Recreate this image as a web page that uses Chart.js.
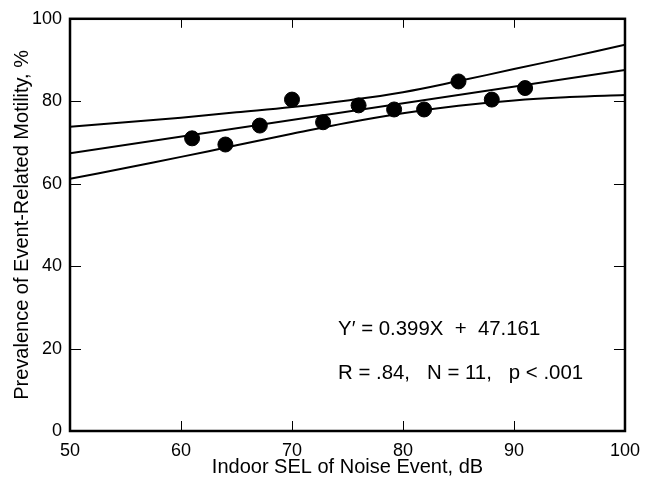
<!DOCTYPE html>
<html>
<head>
<meta charset="utf-8">
<script src="https://cdn.jsdelivr.net/npm/chart.js@4"></script>
<style>
  body { margin: 0; background: #fff; }
  #wrap { width: 649px; height: 485px; }
</style>
</head>
<body>
<div id="wrap"><canvas id="chart" width="649" height="485"></canvas></div>
<script>
// measured points (indoor SEL, dB -> prevalence, %)
const selValues = [61, 64, 67.1, 70, 72.8, 76, 79.2, 81.9, 85, 88, 91];
const prevalence = [71.0, 69.5, 74.1, 80.4, 74.9, 79.0, 78.0, 78.0, 84.8, 80.4, 83.2];

// regression line ends and confidence band
const lineX = [50, 100];
const lineY = [67.4, 87.6];
const bandX = [50, 55, 60, 65, 70, 75, 80, 85, 90, 95, 100];
const upperY = [73.8, 74.9, 76.0, 77.3, 78.6, 80.2, 82.2, 84.9, 87.8, 90.7, 93.7];
const lowerY = [61.2, 63.8, 66.5, 69.3, 72.1, 74.8, 77.1, 78.9, 80.2, 81.0, 81.5];

const xTickMarks = [60, 70, 80, 90];
const yTickMarks = [20, 40, 60, 80];
const noteLines = ["Y\u2032 = 0.399X  +  47.161", "R = .84,   N = 11,   p < .001"];

const FONT = '"Liberation Sans", Arial, sans-serif';

const toPts = (xs, ys) => xs.map((x, i) => ({ x: x, y: ys[i] }));

const frame = {
  id: "frame",
  afterDraw(chart) {
    const { ctx, chartArea: a, scales: { x, y } } = chart;
    ctx.save();
    ctx.strokeStyle = "#000";
    // inward ticks on all four sides
    ctx.lineWidth = 1;
    ctx.beginPath();
    xTickMarks.forEach(v => {
      const px = Math.round(x.getPixelForValue(v)) + 0.5;
      ctx.moveTo(px, a.bottom); ctx.lineTo(px, a.bottom - 10);
      ctx.moveTo(px, a.top); ctx.lineTo(px, a.top + 9);
    });
    yTickMarks.forEach(v => {
      const py = Math.round(y.getPixelForValue(v)) + 0.5;
      ctx.moveTo(a.left, py); ctx.lineTo(a.left + 11, py);
      ctx.moveTo(a.right, py); ctx.lineTo(a.right - 11, py);
    });
    ctx.stroke();
    // box
    ctx.lineWidth = 2.5;
    ctx.strokeRect(a.left, a.top, a.right - a.left, a.bottom - a.top);
    // equation text
    ctx.fillStyle = "#000";
    ctx.font = "20.4px " + FONT;
    ctx.textBaseline = "alphabetic";
    ctx.textAlign = "left";
    ctx.fillText(noteLines[0], x.getPixelForValue(74.15), y.getPixelForValue(23.2));
    ctx.fillText(noteLines[1], x.getPixelForValue(74.15), y.getPixelForValue(12.7));
    ctx.restore();
  }
};

new Chart(document.getElementById("chart"), {
  type: "scatter",
  data: {
    datasets: [
      {
        data: toPts(selValues, prevalence),
        pointRadius: 7.5,
        pointBorderWidth: 1,
        pointBackgroundColor: "#000",
        pointBorderColor: "#000",
        showLine: false
      },
      {
        data: toPts(lineX, lineY),
        showLine: true, pointRadius: 0, borderColor: "#000", borderWidth: 2
      },
      {
        data: toPts(bandX, upperY),
        showLine: true, pointRadius: 0, borderColor: "#000", borderWidth: 2,
        tension: 0.4
      },
      {
        data: toPts(bandX, lowerY),
        showLine: true, pointRadius: 0, borderColor: "#000", borderWidth: 2,
        tension: 0.4
      }
    ]
  },
  options: {
    responsive: false,
    animation: false,
    layout: { padding: { top: 12, right: 20, left: 0, bottom: 0 } },
    plugins: { legend: { display: false }, tooltip: { enabled: false } },
    scales: {
      x: {
        type: "linear", min: 50, max: 100,
        afterFit: s => { s.height = 54; },
        grid: { display: false, drawTicks: false },
        border: { display: false },
        ticks: { stepSize: 10, padding: 9, color: "#000", font: { family: FONT, size: 18 } },
        title: {
          display: true, text: "Indoor SEL of Noise Event, dB", color: "#000",
          font: { family: FONT, size: 20 }, padding: { top: 0, bottom: 6 }
        }
      },
      y: {
        type: "linear", min: 0, max: 100,
        afterFit: s => { s.width = 70; },
        grid: { display: false, drawTicks: false },
        border: { display: false },
        ticks: { stepSize: 20, padding: 8, color: "#000", font: { family: FONT, size: 18 } },
        title: {
          display: true, text: "Prevalence of Event-Related Motility, %", color: "#000",
          font: { family: FONT, size: 20 }, padding: { top: 10, bottom: 0 }
        }
      }
    }
  },
  plugins: [frame]
});
</script>
</body>
</html>
